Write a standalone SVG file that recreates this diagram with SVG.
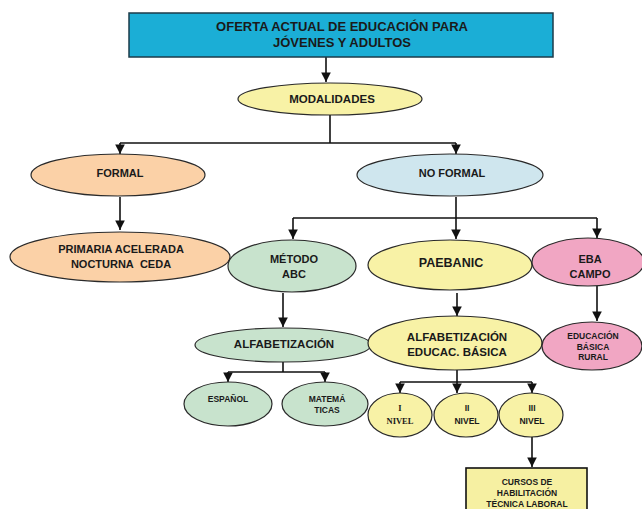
<svg xmlns="http://www.w3.org/2000/svg" width="642" height="509" viewBox="0 0 642 509">
<style>
.n{stroke:#2a2a2a;stroke-width:1.2}
.t{font-family:"Liberation Sans",Arial,sans-serif;font-weight:bold;fill:#1a1a1a;text-anchor:middle}
.s{font-family:"Liberation Serif","Times New Roman",serif;font-weight:bold;fill:#1a1a1a;text-anchor:middle}
.c{fill:none;stroke:#111;stroke-width:1.6}
.yel{fill:#F8F2A6}.org{fill:#FBD1A7}.grn{fill:#C8E3CD}.blu{fill:#CFE6EE}.pnk{fill:#F1A6C3}
</style>
<defs>
<marker id="a" viewBox="0 0 10 10" refX="10" refY="5" markerWidth="6" markerHeight="6" orient="auto" markerUnits="strokeWidth">
<path d="M0,0 L10,5 L0,10 z" fill="#111"/>
</marker>
</defs>
<rect width="642" height="509" fill="#fff"/>
<g id="connectors">
<path class="c" d="M326,57 V82" marker-end="url(#a)"/>
<path class="c" d="M330,115 V143"/>
<path class="c" d="M120,143 H456"/>
<path class="c" d="M120,143 V154" marker-end="url(#a)"/>
<path class="c" d="M456,143 V154" marker-end="url(#a)"/>
<path class="c" d="M120,197 V230" marker-end="url(#a)"/>
<path class="c" d="M456,197 V239" marker-end="url(#a)"/>
<path class="c" d="M293,218 H597"/>
<path class="c" d="M293,218 V239" marker-end="url(#a)"/>
<path class="c" d="M597,218 V238" marker-end="url(#a)"/>
<path class="c" d="M283,293 V327" marker-end="url(#a)"/>
<path class="c" d="M457,293 V316" marker-end="url(#a)"/>
<path class="c" d="M597,286 V321" marker-end="url(#a)"/>
<path class="c" d="M283,362 V372 M228,372 H325"/>
<path class="c" d="M228,372 V382" marker-end="url(#a)"/>
<path class="c" d="M325,372 V382" marker-end="url(#a)"/>
<path class="c" d="M457,370 V382 M400,382 H532"/>
<path class="c" d="M400,382 V393" marker-end="url(#a)"/>
<path class="c" d="M457,382 V393" marker-end="url(#a)"/>
<path class="c" d="M532,382 V393" marker-end="url(#a)"/>
<path class="c" d="M532,437 V467" marker-end="url(#a)"/>
</g>
<g id="titulo">
<rect x="129" y="13" width="424" height="44" fill="#1BAED6" stroke="#1d3b4a" stroke-width="1.5"/>
<text class="t" x="342" y="31" font-size="13">OFERTA ACTUAL DE EDUCACIÓN PARA</text>
<text class="t" x="342" y="47" font-size="13">JÓVENES Y ADULTOS</text>
</g>
<g id="modalidades">
<ellipse class="n yel" cx="330" cy="99" rx="92" ry="16"/>
<text class="t" x="332" y="103" font-size="11.5">MODALIDADES</text>
</g>
<g id="formal">
<ellipse class="n org" cx="118" cy="175" rx="87" ry="21"/>
<text class="t" x="120" y="177" font-size="11">FORMAL</text>
</g>
<g id="noformal">
<ellipse class="n blu" cx="450" cy="175" rx="93" ry="21"/>
<text class="t" x="452" y="177" font-size="11">NO FORMAL</text>
</g>
<g id="primaria">
<ellipse class="n org" cx="120" cy="257" rx="110" ry="25"/>
<text class="t" x="121" y="253" font-size="11">PRIMARIA ACELERADA</text>
<text class="t" x="121" y="268" font-size="11">NOCTURNA&#160; CEDA</text>
</g>
<g id="metodo">
<ellipse class="n grn" cx="292" cy="266" rx="64" ry="26"/>
<text class="t" x="294" y="263" font-size="11">MÉTODO</text>
<text class="t" x="294" y="278" font-size="11">ABC</text>
</g>
<g id="paebanic">
<ellipse class="n yel" cx="450" cy="265" rx="82" ry="25"/>
<text class="t" x="451" y="267" font-size="12.5">PAEBANIC</text>
</g>
<g id="ebacampo">
<ellipse class="n pnk" cx="588" cy="262" rx="56" ry="24"/>
<text class="t" x="590" y="263" font-size="11">EBA</text>
<text class="t" x="590" y="278" font-size="11">CAMPO</text>
</g>
<g id="alfabetizacion">
<ellipse class="n grn" cx="283" cy="345" rx="88" ry="17"/>
<text class="t" x="284" y="348" font-size="11.5">ALFABETIZACIÓN</text>
</g>
<g id="alfaeduc">
<ellipse class="n yel" cx="455" cy="343" rx="87" ry="27"/>
<text class="t" x="457" y="341" font-size="11.5">ALFABETIZACIÓN</text>
<text class="t" x="457" y="356" font-size="11.5">EDUCAC. BÁSICA</text>
</g>
<g id="rural">
<ellipse class="n pnk" cx="592" cy="346" rx="50" ry="24"/>
<text class="t" x="593" y="339" font-size="8.5">EDUCACIÓN</text>
<text class="t" x="593" y="349.5" font-size="8.5">BÁSICA</text>
<text class="t" x="593" y="360" font-size="8.5">RURAL</text>
</g>
<g id="espanol">
<ellipse class="n grn" cx="228" cy="404" rx="44" ry="22"/>
<text class="t" x="228" y="402" font-size="8.5">ESPAÑOL</text>
</g>
<g id="matematicas">
<ellipse class="n grn" cx="325" cy="404" rx="43" ry="22"/>
<text class="t" x="327" y="402" font-size="8.5">MATEMÁ</text>
<text class="t" x="327" y="413" font-size="8.5">TICAS</text>
</g>
<g id="nivel1">
<ellipse class="n yel" cx="400" cy="415" rx="32" ry="22"/>
<text class="s" x="400" y="411" font-size="8.5">I</text>
<text class="s" x="400" y="424" font-size="8.5">NIVEL</text>
</g>
<g id="nivel2">
<ellipse class="n yel" cx="466" cy="415" rx="32" ry="22"/>
<text class="t" x="467" y="411" font-size="8.5">II</text>
<text class="t" x="467" y="424" font-size="8.5">NIVEL</text>
</g>
<g id="nivel3">
<ellipse class="n yel" cx="531" cy="415" rx="32" ry="22"/>
<text class="t" x="532" y="411" font-size="8.5">III</text>
<text class="t" x="532" y="424" font-size="8.5">NIVEL</text>
</g>
<g id="cursos">
<rect x="466" y="468" width="121" height="45" fill="#F6F0A2" stroke="#111" stroke-width="1.6"/>
<text class="t" x="527" y="485" font-size="8.5">CURSOS DE</text>
<text class="t" x="527" y="496" font-size="8.5">HABILITACIÓN</text>
<text class="t" x="527" y="507" font-size="8.5">TÉCNICA LABORAL</text>
</g>
</svg>
